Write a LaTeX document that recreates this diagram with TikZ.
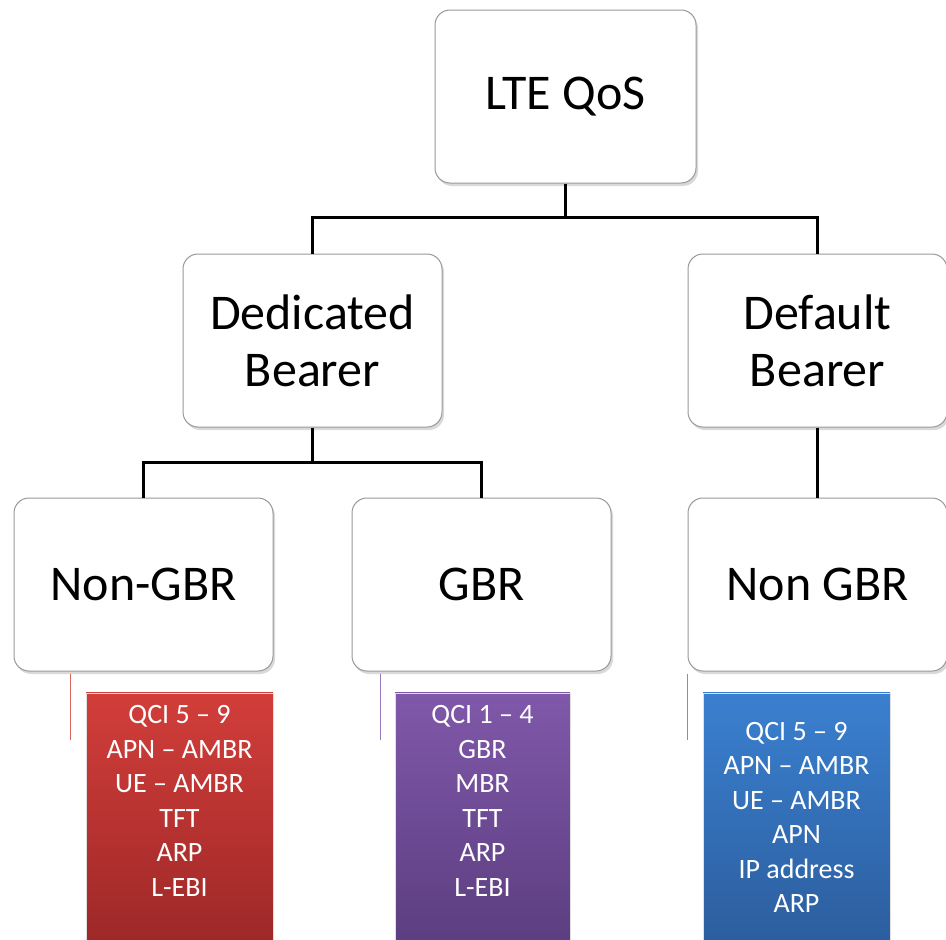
\documentclass[tikz,border=0pt]{standalone}
\usepackage{fontspec}
\setmainfont{Carlito}
\usetikzlibrary{positioning, shadows}
\definecolor{qosredtop}{RGB}{210,62,58}
\definecolor{qosredbot}{RGB}{158,40,40}
\definecolor{qospurtop}{RGB}{128,88,170}
\definecolor{qospurbot}{RGB}{92,62,128}
\definecolor{qosbluetop}{RGB}{58,128,208}
\definecolor{qosbluebot}{RGB}{44,94,158}
\tikzset{
  bearer/.style={rectangle, rounded corners=15pt, minimum width=259pt, minimum height=173pt, align=center, draw=black!40, line width=1pt, fill=white, drop shadow={opacity=0.3, shadow xshift=2pt, shadow yshift=-3pt}, font=\fontsize{50}{57}\selectfont},
  params/.style={rectangle, minimum height=249pt, draw=white!75!gray, line width=0.6pt},
  listing/.style={align=center, text=white, inner sep=0pt, font=\fontsize{28}{34.5}\selectfont},
  link/.style={line width=3pt, black},
  tick/.style={line width=1.5pt}
}
\begin{document}
\begin{tikzpicture}
  \useasboundingbox (0,0) rectangle (946pt,-940pt);

  \node (qos) [bearer, minimum width=261pt] at (565.5pt,-96.5pt) {LTE QoS};
  \node (ded) [bearer, below=70pt of qos, xshift=-253pt] {Dedicated\\Bearer};
  \node (def) [bearer, below=70pt of qos, xshift=252pt] {Default\\Bearer};
  \node (nongbr) [bearer, below=70pt of ded, xshift=-169pt] {Non-GBR};
  \node (gbr) [bearer, below=70pt of ded, xshift=169pt] {GBR};
  \node (defnongbr) [bearer, below=70pt of def] {Non GBR};

  \node (redbox) [params, minimum width=187pt, top color=qosredtop, bottom color=qosredbot, below=21pt of nongbr, xshift=36pt] {};
  \node (purbox) [params, minimum width=175pt, top color=qospurtop, bottom color=qospurbot, below=21pt of gbr, xshift=1pt] {};
  \node (bluebox) [params, minimum width=187pt, top color=qosbluetop, bottom color=qosbluebot, below=21pt of defnongbr, xshift=-21pt] {};

  \node (redlist) [listing, below=13pt of redbox.north] {QCI 5 – 9\\APN – AMBR\\UE – AMBR\\TFT\\ARP\\L-EBI};
  \node (purlist) [listing, below=13pt of purbox.north] {QCI 1 – 4\\GBR\\MBR\\TFT\\ARP\\L-EBI};
  \node (bluelist) [listing] at ([yshift=0pt]bluebox.center) {QCI 5 – 9\\APN – AMBR\\UE – AMBR\\APN\\IP address\\ARP};

  \draw [link] (qos.south) -- ++(0,-34pt) -| (ded.north);
  \draw [link] (qos.south) -- ++(0,-34pt) -| (def.north);
  \draw [link] (ded.south) -- ++(0,-35pt) -| (nongbr.north);
  \draw [link] (ded.south) -- ++(0,-35pt) -| (gbr.north);
  \draw [link] (def.south) -- (defnongbr.north);

  \draw [tick, draw=qosredtop!80!white] ([xshift=57pt,yshift=-2pt]nongbr.south west) -- ++(0,-66pt);
  \draw [tick, draw=qospurtop!80!white] ([xshift=29pt,yshift=-2pt]gbr.south west) -- ++(0,-66pt);
  \draw [tick, draw=qosbluetop!80!white] ([xshift=0pt,yshift=-2pt]defnongbr.south west) -- ++(0,-66pt);

\end{tikzpicture}
\end{document}
